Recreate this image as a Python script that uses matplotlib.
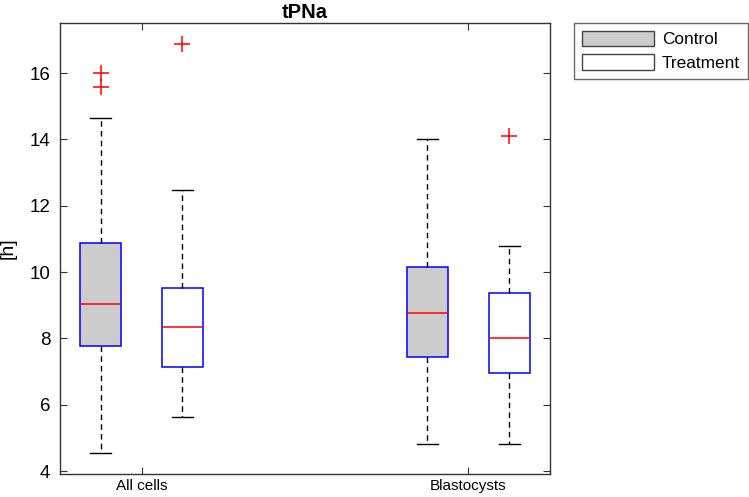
import matplotlib.pyplot as plt
from matplotlib.patches import Patch

plt.rcParams['font.family'] = ['Liberation Sans', 'DejaVu Sans']

groups = ["All cells", "Blastocysts"]
series = ["Control", "Treatment"]
# [lower whisker, q1, median, q3, upper whisker]
control_stats = [[4.54, 7.77, 9.04, 10.87, 14.63],
                 [4.81, 7.45, 8.76, 10.15, 14.01]]
treatment_stats = [[5.63, 7.15, 8.35, 9.53, 12.46],
                   [4.81, 6.95, 8.02, 9.38, 10.80]]
control_outliers = [[16.0, 15.57], []]
treatment_outliers = [[16.88], [14.1]]

fig = plt.figure(figsize=(7.49, 4.97), dpi=100)
ax = fig.add_axes([60 / 749, 1 - 473.7 / 497, 490 / 749, 450.4 / 497])


def make_stats(stats, outliers):
    out = []
    for s, o in zip(stats, outliers):
        out.append(dict(whislo=s[0], q1=s[1], med=s[2], q3=s[3], whishi=s[4], fliers=o))
    return out


offset = 0.125
width = 0.125
for stats, outl, dx, face in [(control_stats, control_outliers, -offset, '#cccccc'),
                              (treatment_stats, treatment_outliers, offset, 'white')]:
    pos = [i + 1 + dx for i in range(len(groups))]
    ax.bxp(make_stats(stats, outl), positions=pos, widths=width, patch_artist=True,
           boxprops=dict(facecolor=face, edgecolor='blue', linewidth=1.1),
           medianprops=dict(color='red', linewidth=1.1),
           whiskerprops=dict(color='black', linestyle=(0, (4, 3)), linewidth=1.0),
           capprops=dict(color='black', linewidth=1.0),
           capwidths=0.064,
           flierprops=dict(marker='+', markeredgecolor='red', markersize=12, markeredgewidth=1.1))

ax.set_xlim(0.75, 2.25)
ax.set_ylim(3.92, 17.5)
ax.set_xticks([1, 2])
ax.set_xticklabels(groups, fontsize=11)
ax.set_yticks([4, 6, 8, 10, 12, 14, 16])
ax.tick_params(axis='y', labelsize=13.5, pad=7)
ax.tick_params(direction='in', top=True, right=True, length=5, color='#333333')
for sp in ax.spines.values():
    sp.set_color('#333333')
    sp.set_linewidth(1.0)
ax.set_ylabel("[h]", fontsize=14)
ax.yaxis.set_label_coords(-0.088, 0.5)
ax.set_title("tPNa", fontsize=14.5, fontweight='bold', pad=4)

handles = [Patch(facecolor='#cccccc', edgecolor='#444444', label='Control'),
           Patch(facecolor='white', edgecolor='#444444', label='Treatment')]
fig.legend(handles=handles, loc='upper left', bbox_to_anchor=(574 / 749, 1 - 23 / 497),
           fontsize=12.4, handlelength=4.2, handleheight=1.0, frameon=True, fancybox=False,
           edgecolor='#444444', borderpad=0.45, labelspacing=0.4, handletextpad=0.45,
           borderaxespad=0)

fig.savefig("out.png", dpi=100)
